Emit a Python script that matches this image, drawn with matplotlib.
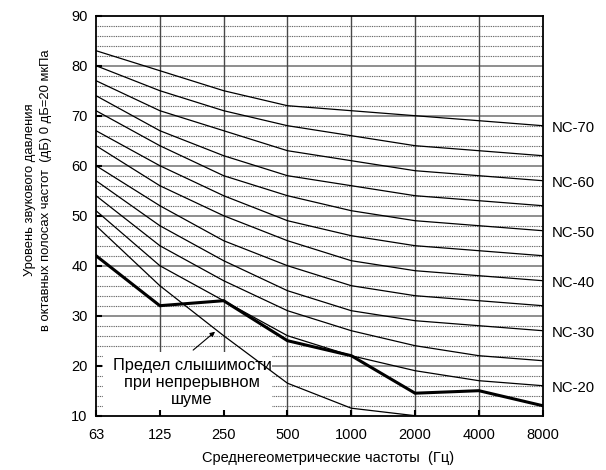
import matplotlib
matplotlib.use("Agg")
import matplotlib.pyplot as plt
from matplotlib.patches import Rectangle
import numpy as np

plt.rcParams['font.family'] = ['Liberation Sans', 'DejaVu Sans']

freqs = ['63', '125', '250', '500', '1000', '2000', '4000', '8000']
nc_names = ['NC-20', 'NC-25', 'NC-30', 'NC-35', 'NC-40', 'NC-45',
            'NC-50', 'NC-55', 'NC-60', 'NC-65', 'NC-70']
nc20 = [51, 40, 33, 26, 22, 19, 17, 16]
nc25 = [54, 44, 37, 31, 27, 24, 22, 21]
nc30 = [57, 48, 41, 35, 31, 29, 28, 27]
nc35 = [60, 52, 45, 40, 36, 34, 33, 32]
nc40 = [64, 56, 50, 45, 41, 39, 38, 37]
nc45 = [67, 60, 54, 49, 46, 44, 43, 42]
nc50 = [71, 64, 58, 54, 51, 49, 48, 47]
nc55 = [74, 67, 62, 58, 56, 54, 53, 52]
nc60 = [77, 71, 67, 63, 61, 59, 58, 57]
nc65 = [80, 75, 71, 68, 66, 64, 63, 62]
nc70 = [83, 79, 75, 72, 71, 70, 69, 68]
nc_curves = [nc20, nc25, nc30, nc35, nc40, nc45, nc50, nc55, nc60, nc65, nc70]
labelled = ['NC-20', 'NC-30', 'NC-40', 'NC-50', 'NC-60', 'NC-70']

measured = [42, 32, 33, 25, 22, 14.5, 15, 12]
threshold = [48, 36, 26, 16.5, 11.5, 10]

yticks = [10, 20, 30, 40, 50, 60, 70, 80, 90]

fig = plt.figure(figsize=(6.06, 4.70), dpi=100)
ax = fig.add_axes([96/606, 1-415.7/470, (542.7-96)/606, 400/470])

x = np.arange(len(freqs))
ax.set_xlim(0, len(freqs)-1)
ax.set_ylim(10, 90)

# grid
for v in range(12, 90, 2):
    if v % 10 == 0:
        ax.axhline(v, color='#707070', lw=1.1, zorder=1)
    else:
        ax.axhline(v, color='#555555', lw=0.8, ls=(0, (0.8, 0.8)), zorder=1)
for xi in x[1:-1]:
    ax.axvline(xi, color='#484848', lw=1.0, zorder=1)

# white box behind annotation
ax.add_patch(Rectangle((0.0157, 0.003), 0.378, 0.156, transform=ax.transAxes,
                       facecolor='white', edgecolor='none', zorder=1.5))

for name, vals in zip(nc_names, nc_curves):
    ax.plot(x, vals, color='black', lw=0.9, zorder=2)
    if name in labelled:
        ax.annotate(name, xy=(x[-1], vals[-1]), xytext=(9, -2),
                    textcoords='offset pixels', va='center', ha='left',
                    fontsize=10.7, annotation_clip=False)

ax.plot(x[:len(threshold)], threshold, color='black', lw=0.9, zorder=2)
ax.plot(x, measured, color='black', lw=2.2, zorder=2.2, solid_joinstyle='miter')

ax.text(0.215, 0.083, 'Предел слышимости\nпри непрерывном\nшуме',
        transform=ax.transAxes, ha='center', va='center', fontsize=11.8,
        multialignment='center', zorder=1.8)
ax.annotate('', xy=(0.2665, 0.21), xytext=(0.2175, 0.164),
            xycoords='axes fraction', textcoords='axes fraction',
            arrowprops=dict(arrowstyle='-|>', color='black', lw=0.8,
                            mutation_scale=7, shrinkA=0, shrinkB=0), zorder=3)

ax.set_xticks(x)
ax.set_xticklabels(freqs)
ax.set_yticks(yticks)
ax.tick_params(axis='both', direction='in', length=4, width=1.5,
               labelsize=10.5, colors='black')
ax.tick_params(axis='x', pad=9)
ax.tick_params(axis='y', pad=6)
for s in ax.spines.values():
    s.set_linewidth(1.3)
    s.set_zorder(4)

ax.set_xlabel('Среднегеометрические частоты  (Гц)', fontsize=10.5)
ax.xaxis.set_label_coords(0.52, -0.088)
fig.text(38/606, 1-190/470,
         'Уровень звукового давления\nв октавных полосах частот  (дБ) 0 дБ=20 мкПа',
         rotation=90, ha='center', va='center', fontsize=9.4,
         multialignment='center', linespacing=1.35)

fig.savefig('out.png', dpi=100)
